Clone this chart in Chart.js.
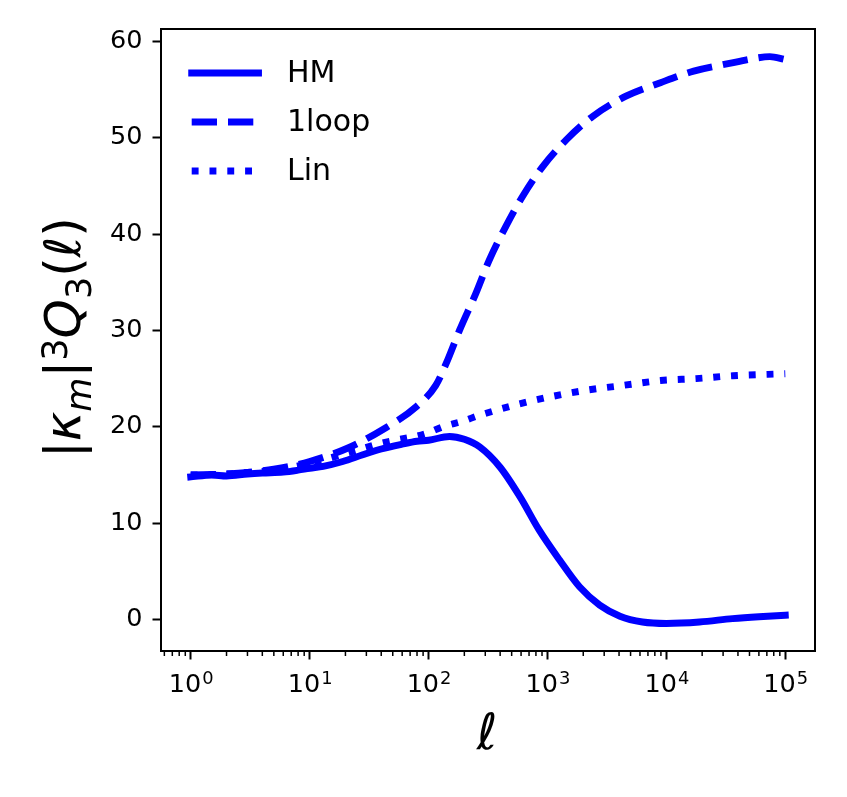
<!DOCTYPE html>
<html><head><meta charset="utf-8">
<script src="https://cdn.jsdelivr.net/npm/chart.js@4.4.1/dist/chart.umd.min.js"></script>
<style>html,body{margin:0;padding:0;background:#fff;} canvas{display:block;}</style>
</head><body>
<canvas id="c" width="847" height="797"></canvas>
<script>
// ---- data (ell values and curve values) ----
const hmEll = [1, 1.5, 2, 3, 4, 6, 8, 10, 13, 19, 28, 40, 60, 80, 100, 150, 200, 270, 400, 590, 850, 1260, 1860, 2750, 4070, 6300, 10000, 19000, 36000, 60000, 100000];
const hmVal = [14.8, 15.0, 14.9, 15.1, 15.2, 15.3, 15.5, 15.7, 15.9, 16.4, 17.1, 17.7, 18.2, 18.5, 18.6, 19.0, 18.7, 17.9, 15.8, 12.7, 9.3, 6.2, 3.4, 1.5, 0.35, -0.25, -0.4, -0.25, 0.1, 0.3, 0.45];

const loopEll = [1, 2, 3.2, 5, 10, 21, 41, 79, 115, 141, 182, 251, 324, 447, 617, 912, 1445, 2399, 4571, 8913, 16982, 33884, 53703, 74131, 100000];
const loopVal = [15.0, 15.1, 15.3, 15.6, 16.4, 17.8, 19.7, 22.1, 24.3, 26.6, 30.0, 33.9, 37.3, 40.8, 43.9, 47.0, 49.8, 52.2, 54.3, 55.7, 56.9, 57.7, 58.2, 58.4, 58.1];

const linEll = [1, 2, 3.2, 5, 10, 21, 40, 95, 132, 195, 269, 550, 1047, 2138, 4365, 8913, 17783, 36308, 100000];
const linVal = [15.0, 15.1, 15.3, 15.5, 16.2, 17.3, 18.3, 19.3, 20.0, 20.6, 21.2, 22.3, 23.1, 23.8, 24.3, 24.8, 25.0, 25.3, 25.5];

const seriesNames = ['HM', '1loop', 'Lin'];
const xTickVals = [1, 10, 100, 1000, 10000, 100000];
const xTickBase = '10';
const xTickExps = ['0', '1', '2', '3', '4', '5'];
const yTickVals = [0, 10, 20, 30, 40, 50, 60];

// ---- styling ----
const BLUE = '#0000ff';
const LW = 6.9;
const DASH = [25.3, 11];
const DOT = [6.9, 10.9];
const FONT = 'DejaVu Sans';
const TICK_SIZE = 25.5;

function pts(xs, ys) { return xs.map((x, i) => ({ x: x, y: ys[i] })); }

const frameAndMinor = {
  id: 'frameAndMinor',
  afterDraw(chart) {
    const ctx = chart.ctx, a = chart.chartArea, xs = chart.scales.x;
    ctx.save();
    ctx.strokeStyle = '#000';
    ctx.lineWidth = 2;
    ctx.strokeRect(a.left, a.top, a.right - a.left, a.bottom - a.top);
    // minor ticks on log axis
    ctx.lineWidth = 1.5;
    for (let k = -1; k <= 5; k++) {
      for (let m = 2; m <= 9; m++) {
        const v = m * Math.pow(10, k);
        if (v < xs.min || v > xs.max) continue;
        const px = xs.getPixelForValue(v);
        ctx.beginPath();
        ctx.moveTo(px, a.bottom);
        ctx.lineTo(px, a.bottom + 5);
        ctx.stroke();
      }
    }
    // x tick labels with superscript exponents, placed by the x scale
    ctx.fillStyle = '#000';
    ctx.textBaseline = 'alphabetic';
    ctx.textAlign = 'left';
    xTickVals.forEach((v, i) => {
      const px = xs.getPixelForValue(v);
      ctx.font = TICK_SIZE + 'px "' + FONT + '"';
      const wb = ctx.measureText(xTickBase).width;
      ctx.font = (TICK_SIZE * 0.7) + 'px "' + FONT + '"';
      const we = ctx.measureText(xTickExps[i]).width;
      const x0 = px - (wb + we) / 2;
      ctx.font = TICK_SIZE + 'px "' + FONT + '"';
      ctx.fillText(xTickBase, x0, 692.3);
      ctx.font = (TICK_SIZE * 0.7) + 'px "' + FONT + '"';
      ctx.fillText(xTickExps[i], x0 + wb + 1, 683.5);
    });
    ctx.restore();
  }
};

const legendPlugin = {
  id: 'mplLegend',
  afterDatasetsDraw(chart) {
    const ctx = chart.ctx;
    const styles = [[], DASH, DOT];
    const ys = [73, 122, 171];
    ctx.save();
    for (let i = 0; i < 3; i++) {
      ctx.strokeStyle = BLUE;
      ctx.lineWidth = LW;
      ctx.lineCap = i === 0 ? 'square' : 'butt';
      ctx.setLineDash(styles[i]);
      ctx.beginPath();
      ctx.moveTo(191.7, ys[i]);
      ctx.lineTo(258.5, ys[i]);
      ctx.stroke();
      ctx.setLineDash([]);
      ctx.fillStyle = '#000';
      ctx.font = '30px "' + FONT + '"';
      ctx.textBaseline = 'middle';
      ctx.textAlign = 'left';
      ctx.fillText(seriesNames[i], 287, ys[i] + 1);
    }
    ctx.restore();
  }
};

function drawMath(ctx, parts, size) {
  let x = 0;
  for (const p of parts) {
    const s = size * (p.scale || 1);
    ctx.font = (p.it ? 'oblique ' : '') + s + 'px "' + FONT + '"';
    ctx.fillText(p.t, x, (p.dy || 0));
    x += ctx.measureText(p.t).width;
  }
  return x;
}

const titlePlugin = {
  id: 'titles',
  afterDraw(chart) {
    const ctx = chart.ctx;
    ctx.save();
    ctx.fillStyle = '#000';
    ctx.textBaseline = 'alphabetic';
    ctx.textAlign = 'left';
    // y title, rotated
    ctx.translate(80, 458);
    ctx.rotate(-Math.PI / 2);
    drawMath(ctx, [
      { t: '|' },
      { t: '\u03ba', it: true },
      { t: 'm', it: true, scale: 0.7, dy: 11 },
      { t: '|' },
      { t: '3', scale: 0.7, dy: -13 },
      { t: 'Q', it: true },
      { t: '3', scale: 0.7, dy: 11 },
      { t: '(' },
      { t: '\u2113', it: true },
      { t: ')' }
    ], 50);
    ctx.restore();
    // x title
    ctx.save();
    ctx.fillStyle = '#000';
    ctx.textBaseline = 'alphabetic';
    ctx.textAlign = 'center';
    ctx.font = 'oblique 50px "' + FONT + '"';
    ctx.fillText('\u2113', 487, 749);
    ctx.restore();
  }
};

new Chart(document.getElementById('c'), {
  type: 'line',
  data: {
    datasets: [
      { label: seriesNames[0], data: pts(hmEll, hmVal), borderColor: BLUE, borderWidth: LW, pointRadius: 0, fill: false, cubicInterpolationMode: 'monotone', borderCapStyle: 'square', order: 3 },
      { label: seriesNames[1], data: pts(loopEll, loopVal), borderColor: BLUE, borderWidth: LW, pointRadius: 0, fill: false, cubicInterpolationMode: 'monotone', borderDash: DASH, borderCapStyle: 'butt', order: 2 },
      { label: seriesNames[2], data: pts(linEll, linVal), borderColor: BLUE, borderWidth: LW, pointRadius: 0, fill: false, cubicInterpolationMode: 'monotone', borderDash: DOT, borderCapStyle: 'butt', order: 1 }
    ]
  },
  options: {
    responsive: false,
    animation: false,
    events: [],
    layout: { padding: { top: 29, right: 32, left: 0, bottom: 0 } },
    plugins: { legend: { display: false }, tooltip: { enabled: false } },
    scales: {
      x: {
        type: 'logarithmic',
        min: Math.pow(10, -0.25),
        max: Math.pow(10, 5.25),
        afterBuildTicks(scale) { scale.ticks = xTickVals.map(v => ({ value: v })); },
        afterFit(scale) { scale.height = 146; },
        ticks: {
          display: false,
          autoSkip: false, maxRotation: 0, minRotation: 0,
          color: '#000', font: { family: FONT, size: TICK_SIZE }, padding: 8
        },
        grid: { display: true, drawOnChartArea: false, drawTicks: true, tickLength: 8.5, tickWidth: 2, tickColor: '#000' },
        border: { display: true, color: '#000', width: 2 }
      },
      y: {
        type: 'linear',
        min: -3.26,
        max: 61.27,
        afterBuildTicks(scale) { scale.ticks = yTickVals.map(v => ({ value: v })); },
        afterFit(scale) { scale.width = 161; },
        ticks: {
          color: '#000', font: { family: FONT, size: TICK_SIZE }, padding: 10,
          callback: v => String(v)
        },
        grid: { display: true, drawOnChartArea: false, drawTicks: true, tickLength: 8.5, tickWidth: 2, tickColor: '#000' },
        border: { display: true, color: '#000', width: 2 }
      }
    }
  },
  plugins: [frameAndMinor, legendPlugin, titlePlugin]
});
</script>
</body></html>
